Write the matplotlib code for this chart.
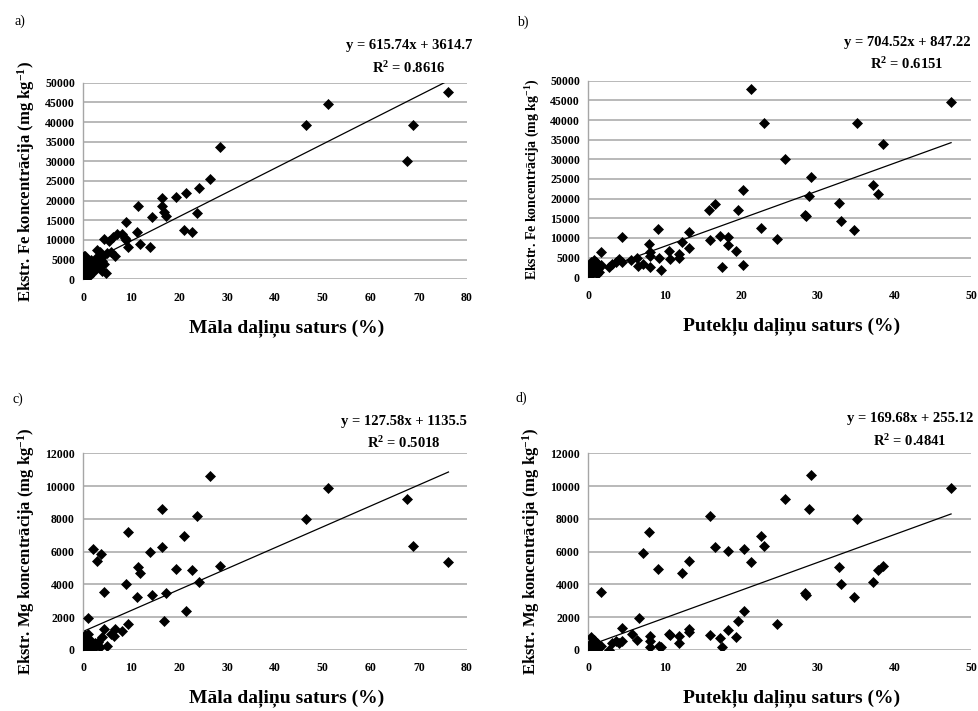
import numpy as np
import matplotlib
matplotlib.use('Agg')
import matplotlib.pyplot as plt

plt.rcParams['font.family'] = ['Liberation Serif', 'DejaVu Serif']
plt.rcParams['font.weight'] = 'bold'
plt.rcParams['axes.labelweight'] = 'bold'
plt.rcParams['mathtext.fontset'] = 'custom'
plt.rcParams['mathtext.rm'] = 'Liberation Serif:bold'
plt.rcParams['mathtext.bf'] = 'Liberation Serif:bold'
plt.rcParams['mathtext.it'] = 'Liberation Serif:bold'

# clay content (%) vs extractable Fe (mg/kg)
clay_fe = [76.2, 51.0, 46.4, 68.9, 67.6, 28.5, 26.5, 24.1, 21.4, 19.4, 16.4, 16.4,
           16.8, 17.2, 11.5, 23.7, 21.1, 22.7, 14.4, 9.0, 11.1, 11.9, 14.0, 9.4,
           9.0, 8.1, 7.0, 6.1, 5.4, 4.4, 8.7, 6.7, 4.9, 5.8, 2.8, 3.5, 4.8, 3.8,
           0.2, 0.4, 0.6, 0.3, 0.1, 0.5, 0.8, 1.0, 1.2, 1.5, 1.8, 2.0, 2.2, 2.5,
           2.8, 3.2, 3.5, 3.8, 4.0, 1.3, 0.7, 0.9, 1.6, 0.4, 2.6, 3.1, 4.3, 1.1,
           0.2, 0.6, 1.9]
fe_clay = [47700, 44700, 39300, 39300, 30200, 33600, 25500, 23200, 22000, 20900, 20700, 18700,
           17200, 16100, 18700, 16900, 12500, 12100, 15800, 14500, 11900, 9000, 8300, 8300,
           10000, 11600, 11400, 10700, 9800, 10300, 10400, 5800, 6800, 6900, 7400, 6900, 1700, 5700,
           5800, 6000, 5200, 4500, 1200, 800, 500, 2500, 3500, 4200, 3000, 1800, 4500, 2500,
           3800, 4200, 3000, 2200, 4700, 1500, 2000, 3200, 5000, 1800, 5300, 4800, 3800, 900,
           2600, 3300, 2000]

# silt content (%) vs extractable Fe (mg/kg)
silt_fe = [47.4, 21.3, 22.9, 35.1, 38.5, 25.7, 29.1, 28.8, 37.2, 37.8, 20.2, 32.7,
           33.0, 28.3, 28.5, 34.7, 22.6, 24.6, 16.6, 15.8, 19.6, 15.9, 17.2, 18.2,
           18.3, 19.3, 20.2, 17.5, 13.2, 13.2, 12.2, 11.8, 11.9, 10.6, 10.7, 9.1,
           9.2, 9.5, 7.9, 8.1, 8.0, 8.0, 7.1, 6.5, 6.3, 5.6, 4.4, 4.4, 4.0, 3.6,
           3.1, 2.7, 1.7, 1.7, 0.1, 0.3, 0.5, 0.7, 0.9, 1.1, 1.3, 0.2, 0.6, 0.8,
           1.0, 1.4, 0.4, 1.2, 0.8, 0.3]
fe_silt = [44700, 47800, 39200, 39200, 33800, 30200, 25400, 20600, 23500, 21100, 22100, 18900,
           14400, 15900, 15700, 12000, 12500, 9800, 18600, 17000, 17000, 9500, 10500, 10200,
           8200, 6700, 3000, 2600, 11500, 7400, 9000, 5900, 5000, 6800, 4600, 12200,
           5000, 1800, 8400, 6500, 5500, 2500, 3300, 2900, 4800, 4500, 10300, 3800, 4700, 3800,
           3500, 2500, 6400, 3000, 1200, 3500, 2500, 4500, 1800, 800, 2200, 2800, 1500, 3200,
           3900, 1400, 600, 2900, 2000, 4000]

# clay content (%) vs extractable Mg (mg/kg)
clay_mg = [26.5, 51.0, 67.6, 46.4, 68.9, 76.2, 16.4, 23.7, 9.4, 21.1, 16.4, 14.0,
           2.1, 3.7, 2.9, 11.5, 11.9, 19.4, 22.7, 28.5, 24.1, 9.0, 4.4, 11.1,
           14.4, 17.2, 21.4, 16.8, 0.9, 9.3, 8.1, 6.7, 6.3, 5.8, 4.4, 3.9, 4.9,
           0.1, 0.3, 0.5, 0.7, 0.9, 1.1, 1.3, 1.6, 1.9, 2.2, 2.6, 3.0, 3.4, 0.2,
           0.6, 1.0, 1.4, 0.4, 0.8, 1.2, 2.4, 0.3, 1.7, 0.9]
mg_clay = [10600, 9900, 9200, 8000, 6350, 5350, 8600, 8200, 7200, 6950, 6300, 6000,
           6150, 5850, 5450, 5050, 4700, 4950, 4900, 5100, 4150, 4050, 3550, 3250,
           3350, 3500, 2350, 1750, 1950, 1600, 1150, 1300, 850, 1000, 1300, 800, 250,
           150, 500, 800, 300, 950, 200, 600, 400, 100, 350, 250, 500, 200, 350,
           100, 700, 50, 900, 400, 150, 450, 600, 250, 550]

# silt content (%) vs extractable Mg (mg/kg)
silt_mg = [47.4, 29.1, 25.7, 28.8, 35.1, 15.9, 7.9, 22.6, 22.9, 16.6, 18.3, 20.3,
           7.1, 13.2, 21.3, 9.1, 12.2, 32.7, 33.0, 37.8, 38.5, 37.2, 34.7, 28.3,
           28.4, 1.7, 20.3, 19.6, 24.6, 6.6, 4.4, 5.7, 6.4, 13.2, 13.2, 10.6, 10.7,
           11.8, 11.9, 8.1, 8.0, 8.0, 9.2, 9.5, 15.9, 17.2, 17.5, 18.2, 19.3, 4.4,
           4.0, 3.6, 3.1, 2.7, 1.7, 0.1, 0.3, 0.5, 0.7, 0.9, 1.1, 1.3, 0.2, 0.6,
           1.0, 1.4, 0.8, 0.4]
mg_silt = [9900, 10650, 9200, 8600, 8000, 8200, 7200, 6950, 6350, 6300, 6050, 6150,
           5900, 5450, 5350, 4950, 4700, 5050, 4050, 4900, 5100, 4150, 3250, 3500,
           3350, 3550, 2350, 1750, 1600, 1950, 1350, 1000, 600, 1300, 1100, 1000, 900,
           850, 400, 850, 550, 200, 250, 200, 900, 750, 200, 1200, 800, 550,
           400, 550, 400, 0, 250, 100, 800, 300, 550, 200, 400, 100, 250, 150,
           350, 200, 600, 450]

panels = [
    dict(tag='a)', x=clay_fe, y=fe_clay, slope=615.74, icpt=3614.7, r2='0.8616',
         xmax=80, ymax=50000, ystep=5000, el='Fe', xl='Māla daļiņu saturs (%)'),
    dict(tag='b)', x=silt_fe, y=fe_silt, slope=704.52, icpt=847.22, r2='0.6151',
         xmax=50, ymax=50000, ystep=5000, el='Fe', xl='Putekļu daļiņu saturs (%)'),
    dict(tag='c)', x=clay_mg, y=mg_clay, slope=127.58, icpt=1135.5, r2='0.5018',
         xmax=80, ymax=12000, ystep=2000, el='Mg', xl='Māla daļiņu saturs (%)'),
    dict(tag='d)', x=silt_mg, y=mg_silt, slope=169.68, icpt=255.12, r2='0.4841',
         xmax=50, ymax=12000, ystep=2000, el='Mg', xl='Putekļu daļiņu saturs (%)'),
]

# axes rectangles in figure fraction
rects = [[0.0851, 0.6072, 0.3916, 0.2765],
         [0.6009, 0.6100, 0.3909, 0.2765],
         [0.0851, 0.0858, 0.3916, 0.2767],
         [0.6009, 0.0858, 0.3909, 0.2767]]
eq_pos = [(0.850, 36.7, 14.7), (0.833, 37.7, 16.7), (0.836, 31.6, 10.0), (0.840, 35.0, 12.6)]
tag_pos = [(15, 21), (517, 22), (13, 399), (515, 398)]
ylab_size = [12, 10, 12, 12]

fig = plt.figure(figsize=(9.79, 7.11), dpi=100)
W, H = 979, 711

for p, r, ep, tp, ys in zip(panels, rects, eq_pos, tag_pos, ylab_size):
    ax = fig.add_axes(r)
    x = np.array(p['x'])
    y = np.array(p['y'])
    ax.plot(x, y, linestyle='none', marker='D', markersize=4.6, markeredgewidth=0.5,
            color='black', zorder=3)
    xs = np.array([x.min(), x.max()])
    ax.plot(xs, p['slope'] * xs + p['icpt'], color='black', linewidth=0.9, zorder=2)

    ax.set_xlim(0, p['xmax'])
    ax.set_ylim(0, p['ymax'])
    ax.set_xticks(np.arange(0, p['xmax'] + 1, 10))
    ax.set_yticks(np.arange(0, p['ymax'] + 1, p['ystep']))
    ax.yaxis.grid(True, color='#a6a6a6', linewidth=1.1)
    ax.set_axisbelow(True)
    for s in ['top', 'right', 'bottom']:
        ax.spines[s].set_visible(False)
    ax.spines['left'].set_color('#a6a6a6')
    ax.spines['left'].set_linewidth(1.0)
    ax.tick_params(length=0, labelsize=8.5, pad=6)
    ax.tick_params(axis='x', pad=9)

    ax.set_xlabel(p['xl'], fontsize=14, fontweight='bold', labelpad=13)
    ax.xaxis.set_label_coords(0.53, -0.2)
    ax.set_ylabel('Ekstr. %s koncentrācija (mg kg$^{-1}$)' % p['el'], fontsize=ys,
                  fontweight='bold', labelpad=6)

    ax_h = r[3] * H
    ax.text(ep[0], 1 + ep[1] / ax_h, 'y = %.2fx + %s' % (p['slope'], p['icpt']),
            transform=ax.transAxes, ha='center', va='center', fontsize=10.5, fontweight='bold')
    ax.text(ep[0], 1 + ep[2] / ax_h, 'R$^{2}$ = %s' % p['r2'],
            transform=ax.transAxes, ha='center', va='center', fontsize=10.5, fontweight='bold')

    fig.text(tp[0] / W, 1 - tp[1] / H, p['tag'], fontsize=10, fontweight='normal',
             ha='left', va='center')

fig.savefig('out.png', dpi=100)
